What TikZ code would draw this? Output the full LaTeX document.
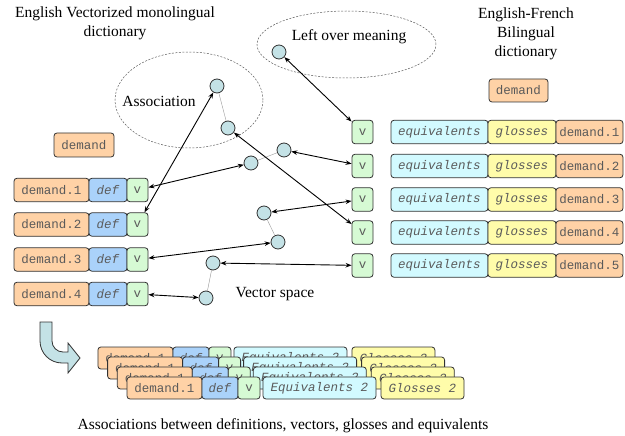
\documentclass[tikz,border=0pt]{standalone}
\usepackage{fontspec}
\setmainfont{Liberation Serif}
\setmonofont{Liberation Mono}
\usetikzlibrary{arrows.meta,shapes.geometric}
\definecolor{cOrange}{RGB}{255,210,166}
\definecolor{cBlue}{RGB}{170,210,250}
\definecolor{cGreen}{RGB}{214,250,212}
\definecolor{cCyan}{RGB}{210,250,255}
\definecolor{cYellow}{RGB}{255,252,170}
\definecolor{cDot}{RGB}{196,226,230}
\definecolor{cText}{RGB}{90,90,90}
\definecolor{cEdge}{RGB}{50,50,50}
\tikzset{
  cell/.style={rectangle, rounded corners=3pt, draw=cEdge, line width=0.8pt, inner sep=0pt,
    minimum height=23.5pt, text=cText, font=\fontsize{12.5}{14}\ttfamily},
  dem/.style={cell, fill=cOrange},
  defc/.style={cell, fill=cBlue, font=\fontsize{12.5}{14}\ttfamily\itshape},
  vc/.style={cell, fill=cGreen},
  eqc/.style={cell, fill=cCyan, font=\fontsize{12.5}{14}\ttfamily\itshape},
  glc/.style={cell, fill=cYellow, font=\fontsize{12.5}{14}\ttfamily\itshape},
  dot/.style={circle, draw=cEdge, line width=0.8pt, fill=cDot, minimum size=14pt, inner sep=0pt},
  link/.style={line width=0.9pt, {Stealth[length=6pt,width=4.5pt]}-{Stealth[length=6pt,width=4.5pt]}},
  faint/.style={line width=0.4pt, draw=gray!80},
  zone/.style={draw=cEdge!80, line width=0.5pt, dash pattern=on 2pt off 1.5pt},
  lbl/.style={font=\fontsize{15.5}{19}\selectfont, align=center, inner sep=0pt}
}
\begin{document}
\begin{tikzpicture}[x=1pt, y=-1pt]
\useasboundingbox (0,0) rectangle (625,436);

% titles
\node[lbl] (tleft) at (115,23.5) {English Vectorized monolingual\\dictionary};
\node[lbl] (tright) at (526,34) {English-French\\Bilingual\\dictionary};

% ellipses
\node[zone, ellipse, draw, minimum width=148pt, minimum height=96pt, inner sep=0pt] (assoc) at (189,100) {};
\node[zone, ellipse, draw, minimum width=179pt, minimum height=67pt, inner sep=0pt] (left) at (346.5,44.5) {};
\node[lbl] (assoclbl) at (159,101) {Association};
\node[lbl] (leftlbl) at (349,37) {Left over meaning};
\node[lbl] (vslbl) at (275,294) {Vector space};

% left dictionary
\node[dem, minimum width=60pt, minimum height=24pt] (lhead) at (84,145) {demand};
\foreach \i/\y in {1/190,2/224.5,3/259.5,4/294}{
  \node[dem, minimum width=75pt] (ld\i) at (51.5,\y) {demand.\i};
  \node[defc, minimum width=38pt] (lf\i) at (108,\y) {def};
  \node[vc, minimum width=21pt] (lv\i) at (137.5,\y) {v};
}

% right dictionary
\node[dem, minimum width=59pt, minimum height=23pt] (rhead) at (518.5,90.5) {demand};
\foreach \i/\y in {1/132,2/166,3/199.5,4/232.5,5/265.5}{
  \node[vc, minimum width=21pt] (rv\i) at (362.5,\y) {v};
  \node[eqc, minimum width=97pt] (re\i) at (439.5,\y) {equivalents};
  \node[glc, minimum width=68pt] (rg\i) at (522,\y) {glosses};
  \node[dem, minimum width=67pt] (rd\i) at (589.5,\y) {demand.\i};
}

% vector points
\node[dot] (c1) at (217,86) {};
\node[dot] (c2) at (228,128) {};
\node[dot] (c3) at (284,150) {};
\node[dot] (c4) at (251,163) {};
\node[dot] (c5) at (279,52) {};
\node[dot] (c6) at (264,213) {};
\node[dot] (c7) at (278,242) {};
\node[dot] (c8) at (213,263) {};
\node[dot] (c9) at (206,298) {};

\draw[faint] (c1) -- (c2);
\draw[faint] (c3) -- (c4);
\draw[faint] (c6) -- (c7);
\draw[faint] (c8) -- (c9);

% links
\draw[link] (lv1) -- (c4);
\draw[link] (lv2) -- (c1);
\draw[link] (lv3) -- (c7);
\draw[link] (lv4) -- (c9);
\draw[link] (c5) -- (rv1);
\draw[link] (c3) -- (rv2);
\draw[link] (c6) -- (rv3);
\draw[link] (c2) -- (rv4);
\draw[link] (c8) -- (rv5);

% bent arrow
\draw[draw=cEdge, line width=0.8pt, fill=cDot]
  (40,322) -- (52,322) -- (52,341) arc[start angle=180, end angle=90, radius=11] -- (68,352)
  -- (68,343) -- (80,358) -- (68,373) -- (68,363) -- (62,363)
  arc[start angle=90, end angle=180, radius=22] -- cycle;

% stacked associations
\foreach \k in {3,2,1,0}{
  \begin{scope}[shift={(-9.7*\k,-10*\k)}]
    \node[dem, minimum width=75pt, minimum height=22pt] (sd\k) at (164.5,388) {demand.1};
    \node[defc, minimum width=36pt, minimum height=22pt] (sf\k) at (220,388) {def};
    \node[vc, minimum width=22pt, minimum height=22pt] (sv\k) at (249,388) {v};
    \node[eqc, minimum width=113pt, minimum height=22pt] (se\k) at (319.5,388) {Equivalents 2};
    \node[glc, minimum width=83pt, minimum height=22pt] (sg\k) at (422.5,388) {Glosses 2};
  \end{scope}
}

\node[lbl] (caption) at (283,426) {Associations between definitions, vectors, glosses and equivalents};
\end{tikzpicture}
\end{document}
